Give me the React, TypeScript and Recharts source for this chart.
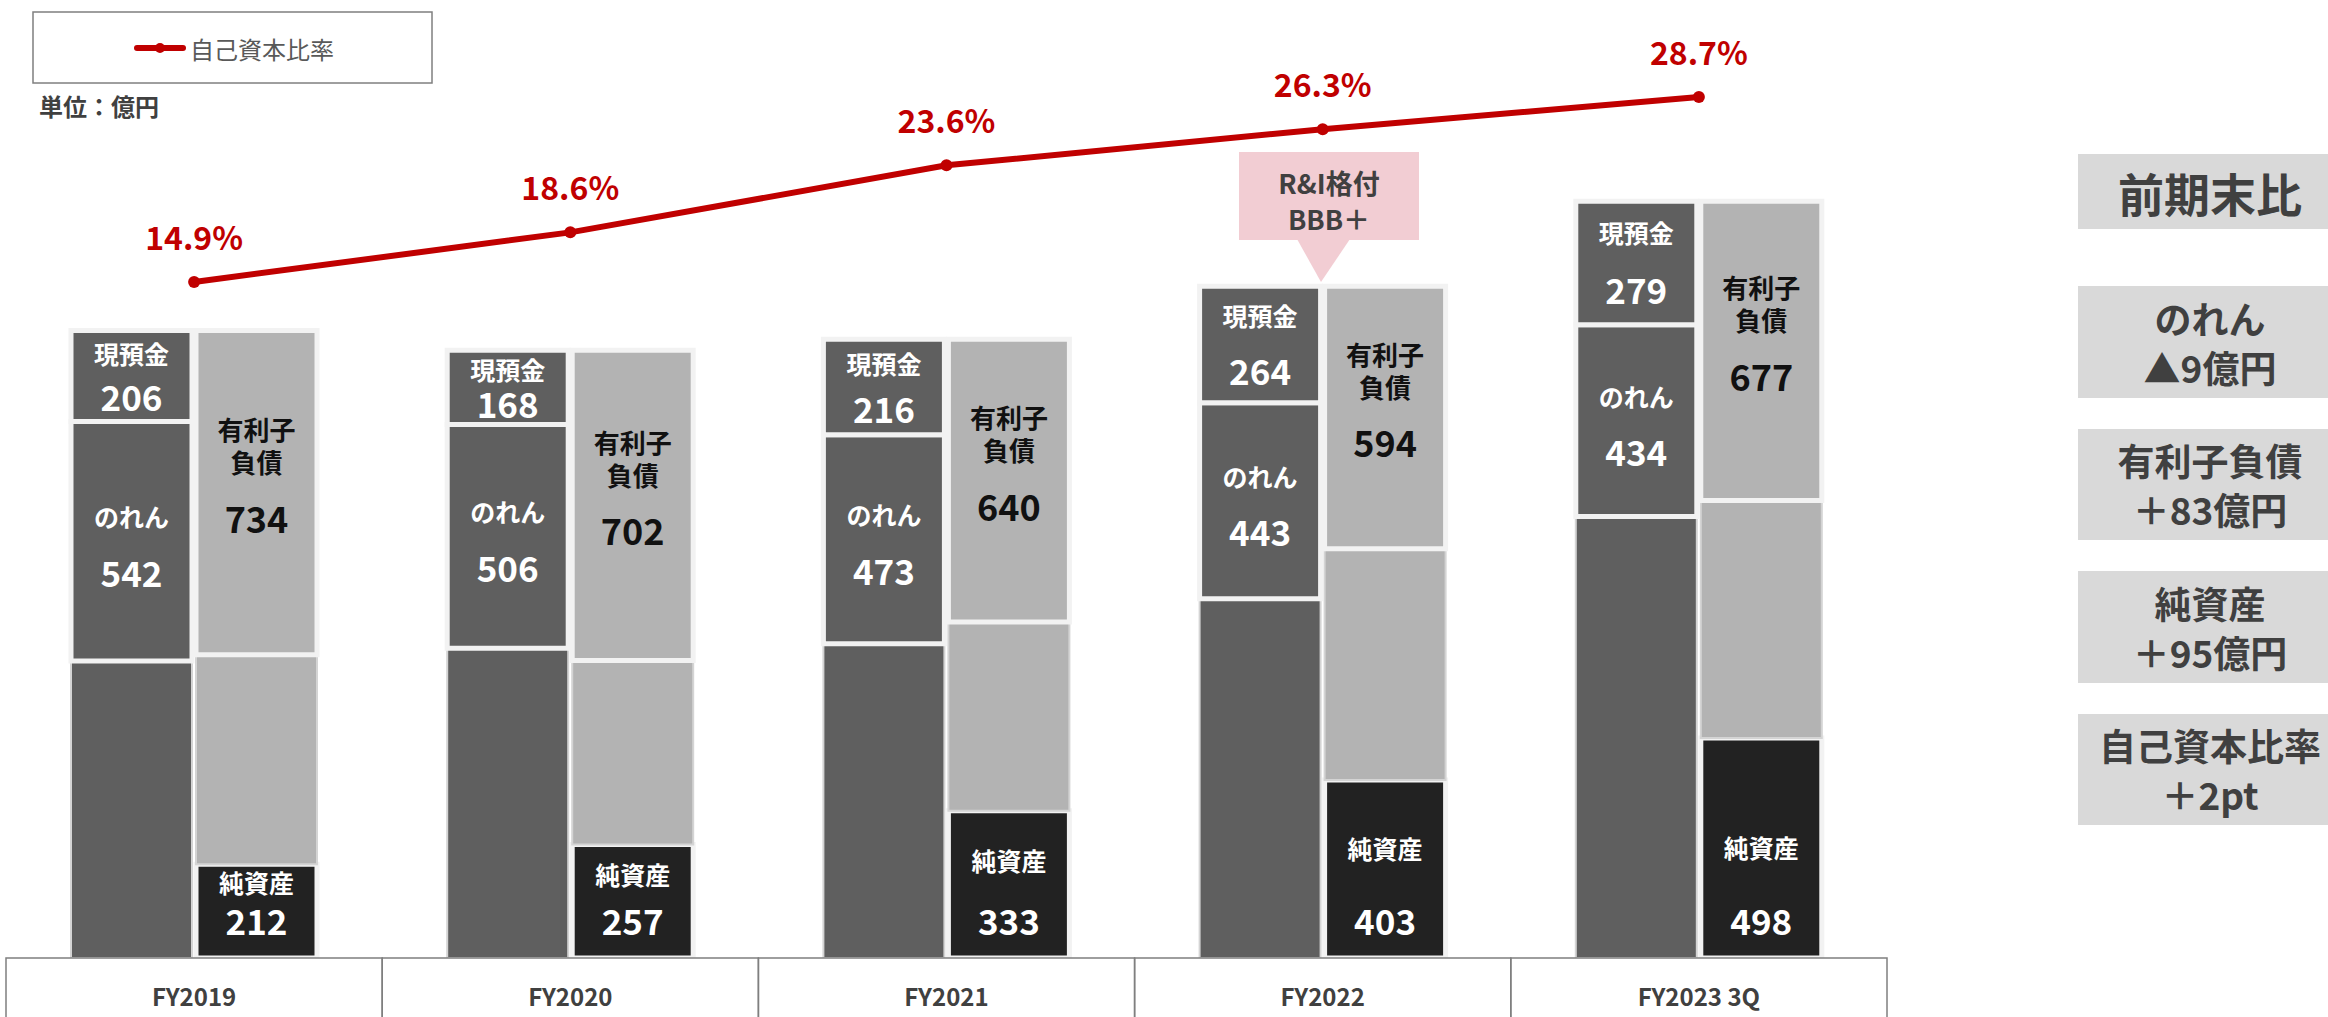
import { Bar, ComposedChart, LabelList, Line, XAxis, YAxis } from "recharts";

const categories = ["FY2019", "FY2020", "FY2021", "FY2022", "FY2023 3Q"];
// 資産側（左の棒）
const cash = [206, 168, 216, 264, 279];
const goodwill = [542, 506, 473, 443, 434];
const otherAssets = [672, 701, 711, 813, 999];
// 負債・純資産側（右の棒）
const debt = [734, 702, 640, 594, 677];
const otherLiabilities = [474, 416, 427, 523, 537];
const netAssets = [212, 257, 333, 403, 498];
// 自己資本比率 (%)
const equityRatio = [14.9, 18.6, 23.6, 26.3, 28.7];

const changeTitle = "前期末比";
const changes = [
  ["のれん", "▲9億円"],
  ["有利子負債", "＋83億円"],
  ["純資産", "＋95億円"],
  ["自己資本比率", "＋2pt"],
];

const data = categories.map((name, i) => ({
  name,
  cash: cash[i],
  goodwill: goodwill[i],
  otherAssets: otherAssets[i],
  debt: debt[i],
  otherLiabilities: otherLiabilities[i],
  netAssets: netAssets[i],
  ratio: equityRatio[i],
}));

const W = 2328;
const H = 1017;
const margin = { top: 40, right: 441, bottom: 0, left: 6 };
const band = (W - margin.left - margin.right) / categories.length;
const FONT = "'Noto Sans CJK JP', 'Noto Sans', sans-serif";

function CashLabel(props: any) {
  const { x, y, width, height, index } = props;
  const cx = x + width / 2;
  return (
    <g fontFamily={FONT} fill="#fff" textAnchor="middle" fontWeight={700}>
      <text x={cx} y={y + height * 0.25} dominantBaseline="central" fontSize={25}>
        現預金
      </text>
      <text x={cx} y={y + height * 0.71} dominantBaseline="central" fontSize={35}>
        {cash[index]}
      </text>
    </g>
  );
}

function GoodwillLabel(props: any) {
  const { x, y, width, height, index } = props;
  const cx = x + width / 2;
  const cy = y + height / 2;
  return (
    <g fontFamily={FONT} fill="#fff" textAnchor="middle" fontWeight={700}>
      <text x={cx} y={cy - 25} dominantBaseline="central" fontSize={25}>
        のれん
      </text>
      <text x={cx} y={cy + 30} dominantBaseline="central" fontSize={35}>
        {goodwill[index]}
      </text>
    </g>
  );
}

function DebtLabel(props: any) {
  const { x, y, width, height, index } = props;
  const cx = x + width / 2;
  const cy = y + height / 2;
  return (
    <g fontFamily={FONT} fill="#111" textAnchor="middle" fontWeight={700}>
      <text x={cx} y={cy - 64} dominantBaseline="central" fontSize={26}>
        有利子
      </text>
      <text x={cx} y={cy - 31} dominantBaseline="central" fontSize={26}>
        負債
      </text>
      <text x={cx} y={cy + 24} dominantBaseline="central" fontSize={36}>
        {debt[index]}
      </text>
    </g>
  );
}

function NetAssetsLabel(props: any) {
  const { x, y, width, height, index } = props;
  const cx = x + width / 2;
  const numY = y + height - 39;
  const gap = Math.min(72, Math.max(37, height * 0.4));
  return (
    <g fontFamily={FONT} fill="#fff" textAnchor="middle" fontWeight={700}>
      <text x={cx} y={numY - gap} dominantBaseline="central" fontSize={25}>
        純資産
      </text>
      <text x={cx} y={numY} dominantBaseline="central" fontSize={35}>
        {netAssets[index]}
      </text>
    </g>
  );
}

function RatioLabel(props: any) {
  const { x, y, index } = props;
  return (
    <text
      x={x}
      y={y - 46}
      textAnchor="middle"
      dominantBaseline="central"
      fill="#c00000"
      fontSize={32}
      fontWeight={700}
      fontFamily={FONT}
    >
      {equityRatio[index].toFixed(1)}%
    </text>
  );
}

function CategoryTick(props: any) {
  const { x, y, payload } = props;
  return (
    <g>
      <rect x={x - band / 2} y={y} width={band} height={100} fill="none" stroke="#7f7f7f" strokeWidth={1.5} />
      <text
        x={x}
        y={y + 37}
        textAnchor="middle"
        dominantBaseline="central"
        fontFamily={FONT}
        fontSize={24}
        fontWeight={700}
        fill="#404040"
      >
        {payload.value}
      </text>
    </g>
  );
}

function Overlay() {
  const boxes = [
    [286, 398],
    [429, 540],
    [571, 683],
    [714, 825],
  ];
  return (
    <svg
      width={W}
      height={H}
      style={{ position: "absolute", left: 0, top: 0, pointerEvents: "none" }}
      fontFamily={FONT}
    >
      {/* 凡例 */}
      <rect x={33} y={12} width={399} height={71} fill="#fff" stroke="#7f7f7f" strokeWidth={1.5} />
      <line x1={137} y1={48} x2={183} y2={48} stroke="#c00000" strokeWidth={6} strokeLinecap="round" />
      <circle cx={160} cy={48} r={5} fill="#c00000" />
      <text x={190} y={48} dominantBaseline="central" fontSize={24} fill="#595959">
        自己資本比率
      </text>
      <text x={39} y={105} dominantBaseline="central" fontSize={24} fontWeight={700} fill="#404040">
        単位：億円
      </text>

      {/* 格付の吹き出し */}
      <rect x={1239} y={152} width={180} height={88} fill="#f2cdd3" />
      <polygon points="1297,239 1350,239 1321,282" fill="#f2cdd3" />
      <text x={1329} y={182} textAnchor="middle" dominantBaseline="central" fontSize={27} fontWeight={700} fill="#404040">
        R&amp;I格付
      </text>
      <text x={1329} y={218} textAnchor="middle" dominantBaseline="central" fontSize={27} fontWeight={700} fill="#404040">
        BBB＋
      </text>

      {/* 前期末比 */}
      <rect x={2078} y={154} width={260} height={75} fill="#d9d9d9" />
      <text x={2210} y={191.5} textAnchor="middle" dominantBaseline="central" fontSize={46} fontWeight={700} fill="#404040">
        {changeTitle}
      </text>
      {changes.map(([a, b], i) => {
        const [top, bottom] = boxes[i];
        const cy = (top + bottom) / 2;
        return (
          <g key={a} textAnchor="middle" fill="#404040" fontWeight={700} fontSize={37}>
            <rect x={2078} y={top} width={260} height={bottom - top} fill="#d9d9d9" />
            <text x={2210} y={cy - 24.5} dominantBaseline="central">
              {a}
            </text>
            <text x={2210} y={cy + 24.5} dominantBaseline="central">
              {b}
            </text>
          </g>
        );
      })}
    </svg>
  );
}

export default function App() {
  return (
    <div style={{ position: "relative", width: W, height: H, overflow: "hidden", background: "#fff" }}>
      <style>{"body{margin:0;overflow:hidden}"}</style>
      <ComposedChart width={W} height={H} data={data} margin={margin} barSize={121} barGap={4}>
        <XAxis
          dataKey="name"
          height={59}
          axisLine={false}
          tickLine={false}
          tickSize={0}
          tickMargin={0}
          interval={0}
          tick={<CategoryTick />}
        />
        <YAxis yAxisId="amount" hide domain={[0, 2077]} allowDataOverflow />
        <YAxis yAxisId="ratio" hide orientation="right" domain={[-35.53, 32.95]} allowDataOverflow />

        <Bar yAxisId="amount" dataKey="otherAssets" stackId="assets" fill="#5f5f5f" stroke="#d4d4d4" strokeWidth={2} isAnimationActive={false} />
        <Bar yAxisId="amount" dataKey="goodwill" stackId="assets" fill="#5f5f5f" stroke="#f2f2f2" strokeWidth={5} isAnimationActive={false}>
          <LabelList content={<GoodwillLabel />} />
        </Bar>
        <Bar yAxisId="amount" dataKey="cash" stackId="assets" fill="#5f5f5f" stroke="#f2f2f2" strokeWidth={5} isAnimationActive={false}>
          <LabelList content={<CashLabel />} />
        </Bar>

        <Bar yAxisId="amount" dataKey="netAssets" stackId="liab" fill="#222222" stroke="#f2f2f2" strokeWidth={5} isAnimationActive={false}>
          <LabelList content={<NetAssetsLabel />} />
        </Bar>
        <Bar yAxisId="amount" dataKey="otherLiabilities" stackId="liab" fill="#b3b3b3" stroke="#d4d4d4" strokeWidth={2} isAnimationActive={false} />
        <Bar yAxisId="amount" dataKey="debt" stackId="liab" fill="#b3b3b3" stroke="#f2f2f2" strokeWidth={5} isAnimationActive={false}>
          <LabelList content={<DebtLabel />} />
        </Bar>

        <Line
          yAxisId="ratio"
          dataKey="ratio"
          type="linear"
          stroke="#c00000"
          strokeWidth={6}
          dot={{ r: 6, fill: "#c00000", stroke: "none" }}
          activeDot={false}
          isAnimationActive={false}
        >
          <LabelList content={<RatioLabel />} />
        </Line>
      </ComposedChart>
      <Overlay />
    </div>
  );
}
